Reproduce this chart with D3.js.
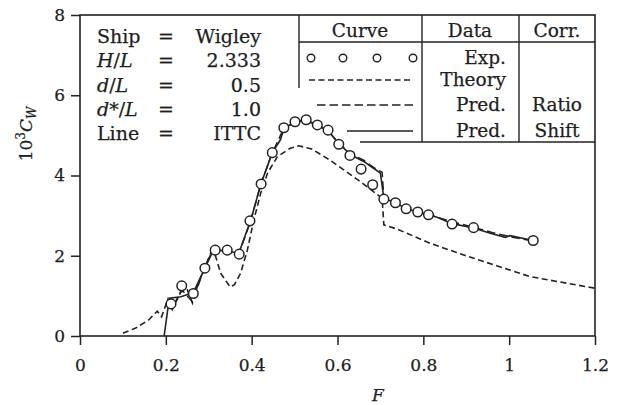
<!DOCTYPE html>
<html>
<head>
<meta charset="utf-8">
<script src="https://cdn.jsdelivr.net/npm/d3@7"></script>
<style>
    body { margin: 0; background: #fff; }
    svg { display: block; }
    text { font-family: "DejaVu Serif", "Liberation Serif", serif; fill: #1e1e1e; stroke: #1e1e1e; stroke-width: 0.25; }
    .axis line { stroke: #222; stroke-width: 1.5; }
    .frame { fill: none; stroke: #222; stroke-width: 1.6; }
    .grid-line { stroke: #222; stroke-width: 1.4; }
</style>
</head>
<body>
<div id="chart"></div>
<script>
// Froude number F vs 10^3 Cw
let expF  = [0.212,0.237,0.264,0.291,0.315,0.343,0.371,0.396,0.422,0.448,0.475,0.501,0.527,0.553,0.578,0.603,0.629,0.655,0.682,0.708,0.735,0.760,0.787,0.812,0.867,0.917,1.056];
let expCw = [0.80,1.25,1.06,1.69,2.14,2.14,2.04,2.87,3.79,4.57,5.19,5.34,5.39,5.26,5.13,4.78,4.50,4.16,3.77,3.41,3.32,3.17,3.09,3.02,2.79,2.70,2.38];

let theoryF  = [0.100,0.130,0.160,0.180,0.190,0.205,0.215,0.235,0.250,0.262,0.275,0.290,0.305,0.312,0.328,0.350,0.360,0.374,0.390,0.405,0.421,0.437,0.460,0.490,0.510,0.540,0.580,0.620,0.653,0.680,0.704,0.708,0.740,0.816,0.894,0.971,1.049,1.200];
let theoryCw = [0.07,0.20,0.40,0.62,0.48,0.92,0.66,1.10,1.15,0.82,1.30,1.68,2.08,2.12,1.56,1.22,1.28,1.56,2.14,2.89,3.56,4.06,4.47,4.68,4.74,4.66,4.40,4.10,3.85,3.63,3.43,2.77,2.66,2.31,2.02,1.75,1.48,1.19];

let ratioF  = [0.205,0.215,0.237,0.262,0.290,0.310,0.330,0.370,0.398,0.421,0.448,0.475,0.501,0.527,0.553,0.578,0.603,0.630,0.661,0.684,0.704,0.708,0.740,0.790,0.830,0.870,0.920,0.960,1.000,1.056];
let ratioCw = [0.90,0.70,1.15,0.85,1.70,2.15,2.10,2.05,2.88,3.78,4.56,5.18,5.33,5.37,5.25,5.11,4.80,4.55,4.38,4.20,4.08,3.45,3.33,3.10,2.97,2.84,2.70,2.58,2.48,2.37];

let shiftF  = [0.196,0.208,0.235,0.264,0.291,0.309,0.316,0.343,0.370,0.398,0.421,0.448,0.467,0.475,0.501,0.527,0.553,0.578,0.603,0.630,0.661,0.684,0.700,0.708,0.735,0.760,0.787,0.832,0.867,0.917,0.956,0.991,1.002,1.056];
let shiftCw = [0,0.94,0.98,1.08,1.69,2.10,2.14,2.12,2.06,2.89,3.77,4.57,4.89,5.17,5.33,5.38,5.26,5.12,4.80,4.52,4.35,4.18,4.06,3.43,3.32,3.17,3.09,2.96,2.80,2.69,2.56,2.46,2.50,2.38];

let xTicks = [0,0.2,0.4,0.6,0.8,1,1.2];
let yTicks = [0,2,4,6,8];

let paramNames  = ["Ship","H/L","d/L","d*/L","Line"];
let paramValues = ["Wigley","2.333","0.5","1.0","ITTC"];

let tableHeaders = ["Curve","Data","Corr."];
let tableData = ["Exp.","Theory","Pred.","Pred."];
let tableCorr = ["","","Ratio","Shift"];

const W = 618, H = 405;
const svg = d3.select("#chart").append("svg").attr("width", W).attr("height", H);

const x = d3.scaleLinear().domain([0, 1.2]).range([80, 595]);
const y = d3.scaleLinear().domain([0, 8]).range([336, 15]);

function zip(a, b){ return a.map(function(v, i){ return [v, b[i]]; }); }

let line = d3.line().x(function(d){ return x(d[0]); }).y(function(d){ return y(d[1]); });

// axes
svg.append("g")
    .attr("class", "axis")
    .attr("transform", "translate(0," + y(0) + ")")
    .call(d3.axisBottom(x).tickValues(xTicks).tickSize(9).tickPadding(14).tickFormat(d3.format("~g")))
    .call(function(g){ g.select(".domain").remove(); });

svg.append("g")
    .attr("class", "axis")
    .attr("transform", "translate(" + x(0) + ",0)")
    .call(d3.axisLeft(y).tickValues(yTicks).tickSize(9).tickPadding(6))
    .call(function(g){ g.select(".domain").remove(); });

svg.selectAll(".axis text").attr("fill", "#1e1e1e").style("font-size", "17px");

svg.append("rect").attr("class", "frame")
    .attr("x", x(0)).attr("y", y(8))
    .attr("width", x(1.2) - x(0)).attr("height", y(0) - y(8));

// axis titles
let yLabel = svg.append("text")
    .attr("transform", "translate(32," + 134 + ") rotate(-90)")
    .attr("text-anchor", "middle")
    .style("font-size", "17px");
yLabel.append("tspan").text("10");
yLabel.append("tspan").text("3").attr("dy", -7).style("font-size", "12px");
yLabel.append("tspan").text("C").attr("dy", 7).style("font-style", "italic");
yLabel.append("tspan").text("W").attr("dy", 4).style("font-style", "italic").style("font-size", "12px");

svg.append("text")
    .attr("x", 378).attr("y", 401)
    .attr("text-anchor", "middle")
    .style("font-size", "17px").style("font-style", "italic")
    .text("F");

// curves
svg.append("path")
    .datum(zip(theoryF, theoryCw))
    .attr("d", line)
    .attr("fill", "none").attr("stroke", "#222").attr("stroke-width", 1.6)
    .attr("stroke-dasharray", "6,3.5");

svg.append("path")
    .datum(zip(ratioF, ratioCw))
    .attr("d", line)
    .attr("fill", "none").attr("stroke", "#222").attr("stroke-width", 1.5)
    .attr("stroke-dasharray", "8.5,4");

svg.append("path")
    .datum(zip(shiftF, shiftCw))
    .attr("d", line)
    .attr("fill", "none").attr("stroke", "#222").attr("stroke-width", 1.6);

svg.selectAll(".exp")
    .data(zip(expF, expCw))
    .enter().append("circle")
    .attr("class", "exp")
    .attr("cx", function(d){ return x(d[0]); })
    .attr("cy", function(d){ return y(d[1]); })
    .attr("r", 4.8)
    .attr("fill", "#fff").attr("stroke", "#222").attr("stroke-width", 1.5);

// parameter block
let params = svg.append("g").style("font-size", "19px");
paramNames.forEach(function(name, i){
    let by = 43 + i * 24.3;
    let t = params.append("text").attr("x", 97).attr("y", by);
    if(name.indexOf("/") >= 0){
        let parts = name.split("/");
        t.append("tspan").text(parts[0]).style("font-style", "italic");
        t.append("tspan").text("/");
        t.append("tspan").text(parts[1]).style("font-style", "italic");
    } else {
        t.text(name);
    }
    params.append("text").attr("x", 166).attr("y", by).attr("text-anchor", "middle").text("=");
    params.append("text").attr("x", 261).attr("y", by).attr("text-anchor", "end").text(paramValues[i]);
});

// curve table
let table = svg.append("g").style("font-size", "18.5px");
let hLines = [[299, 42, 595, 42], [360, 142, 595, 142]];
let vLines = [[299, 15, 299, 88], [422, 15, 422, 142], [519, 15, 519, 142]];
hLines.concat(vLines).forEach(function(l){
    table.append("line").attr("class", "grid-line")
        .attr("x1", l[0]).attr("y1", l[1]).attr("x2", l[2]).attr("y2", l[3]);
});

let headerX = [360, 470, 557];
tableHeaders.forEach(function(h, i){
    table.append("text").attr("x", headerX[i]).attr("y", 37).attr("text-anchor", "middle").text(h);
});

let rowY = [58, 80, 105, 131];
tableData.forEach(function(d, i){
    table.append("text").attr("x", 506).attr("y", rowY[i] + 6).attr("text-anchor", "end").text(d);
    if(tableCorr[i])
        table.append("text").attr("x", 557).attr("y", rowY[i] + 6).attr("text-anchor", "middle").text(tableCorr[i]);
});

[311, 343, 377, 413].forEach(function(cx){
    table.append("circle").attr("cx", cx).attr("cy", rowY[0]).attr("r", 3.8)
        .attr("fill", "#fff").attr("stroke", "#222").attr("stroke-width", 1.4);
});
table.append("line").attr("x1", 309).attr("x2", 413).attr("y1", rowY[1]).attr("y2", rowY[1])
    .attr("stroke", "#222").attr("stroke-width", 1.5).attr("stroke-dasharray", "6,3.5");
table.append("line").attr("x1", 317).attr("x2", 413).attr("y1", rowY[2]).attr("y2", rowY[2])
    .attr("stroke", "#222").attr("stroke-width", 1.5).attr("stroke-dasharray", "8.5,4");
table.append("line").attr("x1", 347).attr("x2", 413).attr("y1", rowY[3]).attr("y2", rowY[3])
    .attr("stroke", "#222").attr("stroke-width", 1.5);
</script>
</body>
</html>
